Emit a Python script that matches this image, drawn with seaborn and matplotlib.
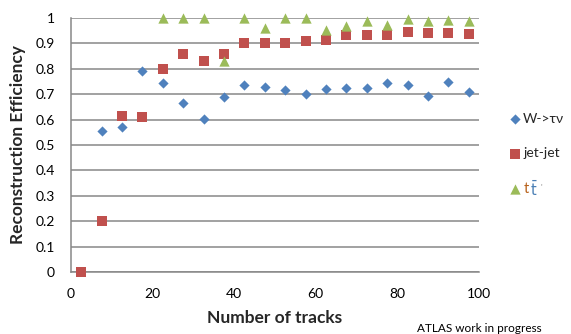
import matplotlib
matplotlib.use("Agg")
import matplotlib.pyplot as plt
import seaborn as sns
import pandas as pd
import numpy as np

# Track-count bin centres
n_tracks = [2.5, 7.5, 12.5, 17.5, 22.5, 27.5, 32.5, 37.5, 42.5, 47.5,
            52.5, 57.5, 62.5, 67.5, 72.5, 77.5, 82.5, 87.5, 92.5, 97.5]

# Reconstruction efficiency per sample (None = no entry in that bin)
eff_wtaunu = [None, 0.554, 0.571, 0.790, 0.743, 0.665, 0.604, 0.688, 0.737, 0.727,
              0.718, 0.702, 0.720, 0.724, 0.725, 0.746, 0.737, 0.694, 0.749, 0.708]
eff_jetjet = [0.0, 0.200, 0.615, 0.611, 0.798, 0.858, 0.832, 0.860, 0.900, 0.902,
              0.903, 0.911, 0.915, 0.933, 0.933, 0.935, 0.943, 0.942, 0.939, 0.938]
eff_ttbar = [None, None, None, None, 1.0, 1.0, 1.0, 0.830, 1.0, 0.962,
             1.0, 1.0, 0.953, 0.968, 0.990, 0.973, 0.997, 0.990, 0.993, 0.987]

series_names = ["W->τν", "jet-jet", "ttbar"]
series_colors = {"W->τν": "#4F81BD", "jet-jet": "#C0504D", "ttbar": "#9BBB59"}
series_markers = {"W->τν": "D", "jet-jet": "s", "ttbar": "^"}
series_sizes = {"W->τν": 27, "jet-jet": 50, "ttbar": 55}

rows = []
for name, vals in zip(series_names, [eff_wtaunu, eff_jetjet, eff_ttbar]):
    for x, v in zip(n_tracks, vals):
        if v is not None:
            rows.append({"tracks": x, "eff": v, "sample": name})
df = pd.DataFrame(rows)

sns.set_theme(style="white")
plt.rcParams["font.family"] = ["Lato", "DejaVu Sans"]

fig = plt.figure(figsize=(5.71, 3.34), dpi=100)
ax = fig.add_axes([71 / 571, 1 - 272 / 334, 408 / 571, 254 / 334])

for name in series_names:
    sub = df[df["sample"] == name]
    sns.scatterplot(data=sub, x="tracks", y="eff", ax=ax,
                    color=series_colors[name], marker=series_markers[name],
                    s=series_sizes[name], linewidth=0, label=name,
                    clip_on=False, zorder=3)

ax.set_xlim(0, 100)
ax.set_ylim(0, 1)
ax.set_xticks([0, 20, 40, 60, 80, 100])
ax.set_yticks(np.round(np.arange(0, 1.01, 0.1), 1))
ax.set_yticklabels(["0", "0.1", "0.2", "0.3", "0.4", "0.5", "0.6", "0.7", "0.8", "0.9", "1"])
ax.tick_params(axis="both", length=0, labelsize=10, colors="black")
ax.tick_params(axis="y", pad=11.5)
ax.tick_params(axis="x", pad=11.5)

grid_c = "#878787"
ax.yaxis.grid(True, color=grid_c, linewidth=1.1)
ax.xaxis.grid(False)
for side in ["top", "right"]:
    ax.spines[side].set_visible(False)
for side in ["left", "bottom"]:
    ax.spines[side].set_color(grid_c)
    ax.spines[side].set_linewidth(1.1)
ax.set_axisbelow(True)

ax.set_xlabel("Number of tracks", fontsize=12.5, fontweight="bold", labelpad=7)
ax.set_ylabel("Reconstruction Efficiency", fontsize=12.5, fontweight="bold", labelpad=7)

handles, labels = ax.get_legend_handles_labels()
leg = ax.legend(handles, ["W->τν", "jet-jet", "t"], loc="upper left",
                bbox_to_anchor=(508 / 571, 1 - 113 / 334), bbox_transform=fig.transFigure,
                frameon=False, fontsize=10, handletextpad=0.1, handlelength=1.0,
                labelspacing=1.62, borderpad=0, borderaxespad=0)

# Third legend entry: t in one colour, t-bar in another
tlabel = leg.get_texts()[2]
tlabel.set_color("#B8621B")
tlabel.set_fontsize(10.5)
fig.canvas.draw()
bb = tlabel.get_window_extent().transformed(fig.transFigure.inverted())
ymid = (bb.y0 + bb.y1) / 2
fig.text(bb.x1 + 1 / 571, ymid, "$\\bar{\\mathrm{t}}$", color="#4A7FB5", fontsize=10.5,
         va="center", ha="left")
fig.text(bb.x1 + 12 / 571, ymid + 1 / 334, "'", color="#888888", fontsize=6,
         va="center", ha="left")

fig.text(417 / 571, 1 - 328 / 334, "ATLAS work in progress", fontsize=8.5,
         va="center", ha="left", color="black")

fig.savefig("out.png", dpi=100)
